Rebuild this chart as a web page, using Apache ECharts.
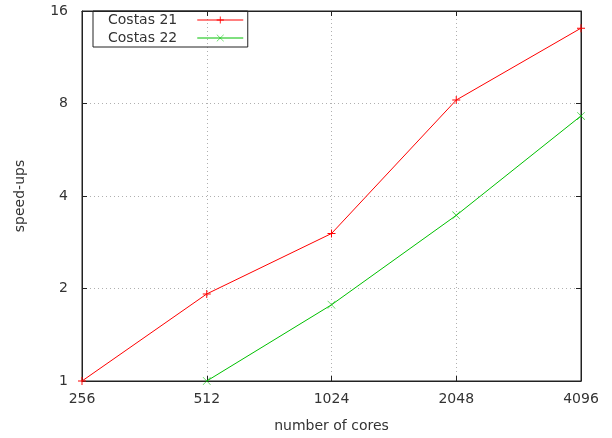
<!DOCTYPE html>
<html>
<head>
<meta charset="utf-8">
<script src="https://cdn.jsdelivr.net/npm/echarts@6/dist/echarts.min.js"></script>
<style>html,body{margin:0;padding:0;background:#fff}#c{width:612px;height:438px}</style>
</head>
<body>
<div id="c"></div>
<script>
const cores = [256, 512, 1024, 2048, 4096];
const costas21 = [1, 1.92, 3.02, 8.21, 14.07];
const costas22 = [null, 1, 1.77, 3.46, 7.29];
const xTicks = [256, 512, 1024, 2048, 4096];
const yTicks = [1, 2, 4, 8, 16];

const FONT = 'DejaVu Sans';
const TXT = '#333';
const plusPath = 'path://M0,4.4H10V5.6H0Z M4.4,0H5.6V10H4.4Z';
const crossPath = 'path://M0.4,0L10,9.6L9.6,10L0,0.4Z M9.6,0L10,0.4L0.4,10L0,9.6Z';

function pairs(ys) {
  const out = [];
  cores.forEach((x, i) => { if (ys[i] != null) out.push([x, ys[i]]); });
  return out;
}

const gridLine = { show: true, lineStyle: { color: '#b0b0b0', type: [1, 3], width: 1 } };
const axisLine = { show: true, lineStyle: { color: '#222', width: 1 } };
const tick = { show: true, inside: true, length: 5, lineStyle: { color: '#222' } };

const chart = echarts.init(document.getElementById('c'), null, { renderer: 'canvas' });
chart.setOption({
  animation: false,
  backgroundColor: '#fff',
  textStyle: { fontFamily: FONT },
  grid: { left: 82, right: 31, top: 11, bottom: 56, show: true, borderColor: '#222', borderWidth: 1, containLabel: false },
  legend: {
    orient: 'vertical', left: 93, top: 11, align: 'right',
    padding: [2, 4, 2, 15], itemGap: 4, itemWidth: 46, itemHeight: 9,
    borderColor: '#222', borderWidth: 1,
    lineStyle: { width: 1 },
    formatter: function (n) { return '{t|' + n + '}'; },
    textStyle: { fontFamily: FONT, fontSize: 14, color: TXT,
      rich: { t: { fontFamily: FONT, fontSize: 14, color: TXT, padding: [0, 15, 0, 0] } } },
    data: ['Costas 21', 'Costas 22']
  },
  xAxis: [{
    type: 'log', logBase: 2, min: xTicks[0], max: xTicks[xTicks.length - 1], interval: 1,
    name: 'number of cores', nameLocation: 'middle', nameGap: 38,
    nameTextStyle: { fontFamily: FONT, fontSize: 14, color: TXT },
    axisLine: axisLine, axisTick: tick, splitLine: gridLine, minorTick: { show: false },
    axisLabel: { fontFamily: FONT, fontSize: 14, color: TXT, margin: 11, showMinLabel: true, showMaxLabel: true,
      formatter: function (v) { return String(Math.round(v)); } }
  }, {
    type: 'log', logBase: 2, position: 'top', min: xTicks[0], max: xTicks[xTicks.length - 1], interval: 1,
    axisLine: axisLine, axisTick: tick, splitLine: { show: false }, axisLabel: { show: false }
  }],
  yAxis: [{
    type: 'log', logBase: 2, min: yTicks[0], max: yTicks[yTicks.length - 1], interval: 1,
    name: 'speed-ups', nameLocation: 'middle', nameGap: 55,
    nameTextStyle: { fontFamily: FONT, fontSize: 14, color: TXT },
    axisLine: axisLine, axisTick: tick, splitLine: gridLine,
    axisLabel: { fontFamily: FONT, fontSize: 14, color: TXT, margin: 14, showMinLabel: true, showMaxLabel: true,
      formatter: function (v) { return String(Math.round(v)); } }
  }, {
    type: 'log', logBase: 2, position: 'right', min: yTicks[0], max: yTicks[yTicks.length - 1], interval: 1,
    axisLine: axisLine, axisTick: tick, splitLine: { show: false }, axisLabel: { show: false }
  }],
  series: [{
    name: 'Costas 21', type: 'line', data: pairs(costas21), clip: false,
    symbol: plusPath, symbolSize: 8, showAllSymbol: true,
    lineStyle: { color: '#ff0000', width: 1 }, itemStyle: { color: '#ff0000' }
  }, {
    name: 'Costas 22', type: 'line', data: pairs(costas22), clip: false,
    symbol: crossPath, symbolSize: 8, showAllSymbol: true,
    lineStyle: { color: '#00c000', width: 1 }, itemStyle: { color: '#00c000' }
  }]
});
</script>
</body>
</html>
